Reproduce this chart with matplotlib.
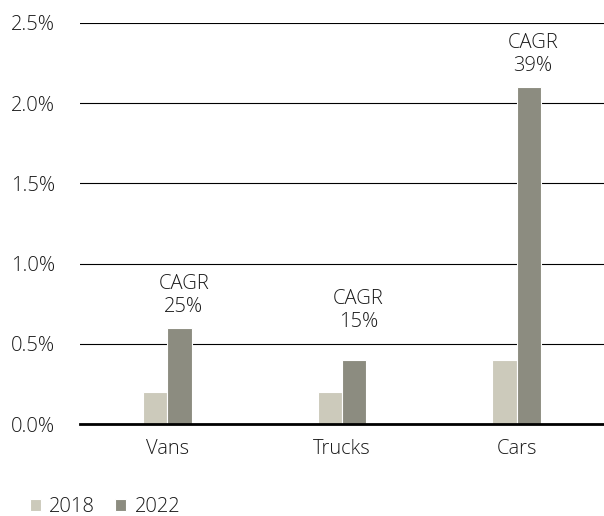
import matplotlib
matplotlib.use("Agg")
import matplotlib.pyplot as plt
import numpy as np
from matplotlib.ticker import FuncFormatter

categories = ["Vans", "Trucks", "Cars"]
values_2018 = [0.2, 0.2, 0.4]
values_2022 = [0.6, 0.4, 2.1]
cagr_labels = ["CAGR\n25%", "CAGR\n15%", "CAGR\n39%"]
series_names = ["2018", "2022"]

plt.rcParams['font.family'] = ['Open Sans', 'DejaVu Sans']
plt.rcParams['font.weight'] = 'light'
c18 = "#cccabb"
c22 = "#8c8c80"
fs = 14.5
label_gaps = [8, 20, 8]

fig = plt.figure(figsize=(6.04, 5.16), dpi=100)
ax = fig.add_axes([80/604, 1-424/516, 524/604, 401/516])
x = np.arange(len(categories))
w = 0.14
ax.bar(x - w/2, values_2018, w, color=c18, edgecolor="white", linewidth=0.8, label=series_names[0], zorder=3)
ax.bar(x + w/2, values_2022, w, color=c22, edgecolor="white", linewidth=0.8, label=series_names[1], zorder=3)
for xi, v, lab, g in zip(x, values_2022, cagr_labels, label_gaps):
    ax.annotate(lab, (xi + w/2, v), xytext=(3, g), textcoords="offset points",
                ha="center", va="bottom", fontsize=fs, color="#1a1a1a", linespacing=1.2)
ax.set_xlim(-0.5, 2.5)
ax.set_ylim(0, 2.5)
ax.set_yticks(np.arange(0, 2.51, 0.5))
ax.yaxis.set_major_formatter(FuncFormatter(lambda v, p: f"{v:.1f}%"))
ax.grid(axis="y", color="black", linewidth=0.8, zorder=0)
for s in ["top", "right", "left"]:
    ax.spines[s].set_visible(False)
ax.spines["bottom"].set_linewidth(2)
ax.spines["bottom"].set_zorder(4)
ax.tick_params(axis="y", length=0, labelsize=fs, pad=50, labelcolor="#1a1a1a")
ax.tick_params(axis="x", length=0, labelsize=fs, pad=11, labelcolor="#1a1a1a")
for t in ax.get_yticklabels():
    t.set_horizontalalignment("left")
ax.set_xticks(x)
ax.set_xticklabels(categories)
ax.legend(loc="lower left", bbox_to_anchor=(-58/524, -101/401), ncol=2, frameon=False,
          fontsize=fs, handlelength=0.55, handleheight=0.55, handletextpad=0.4, columnspacing=1.0,
          borderaxespad=0, labelcolor="#1a1a1a")
fig.savefig("out.png", dpi=100)
